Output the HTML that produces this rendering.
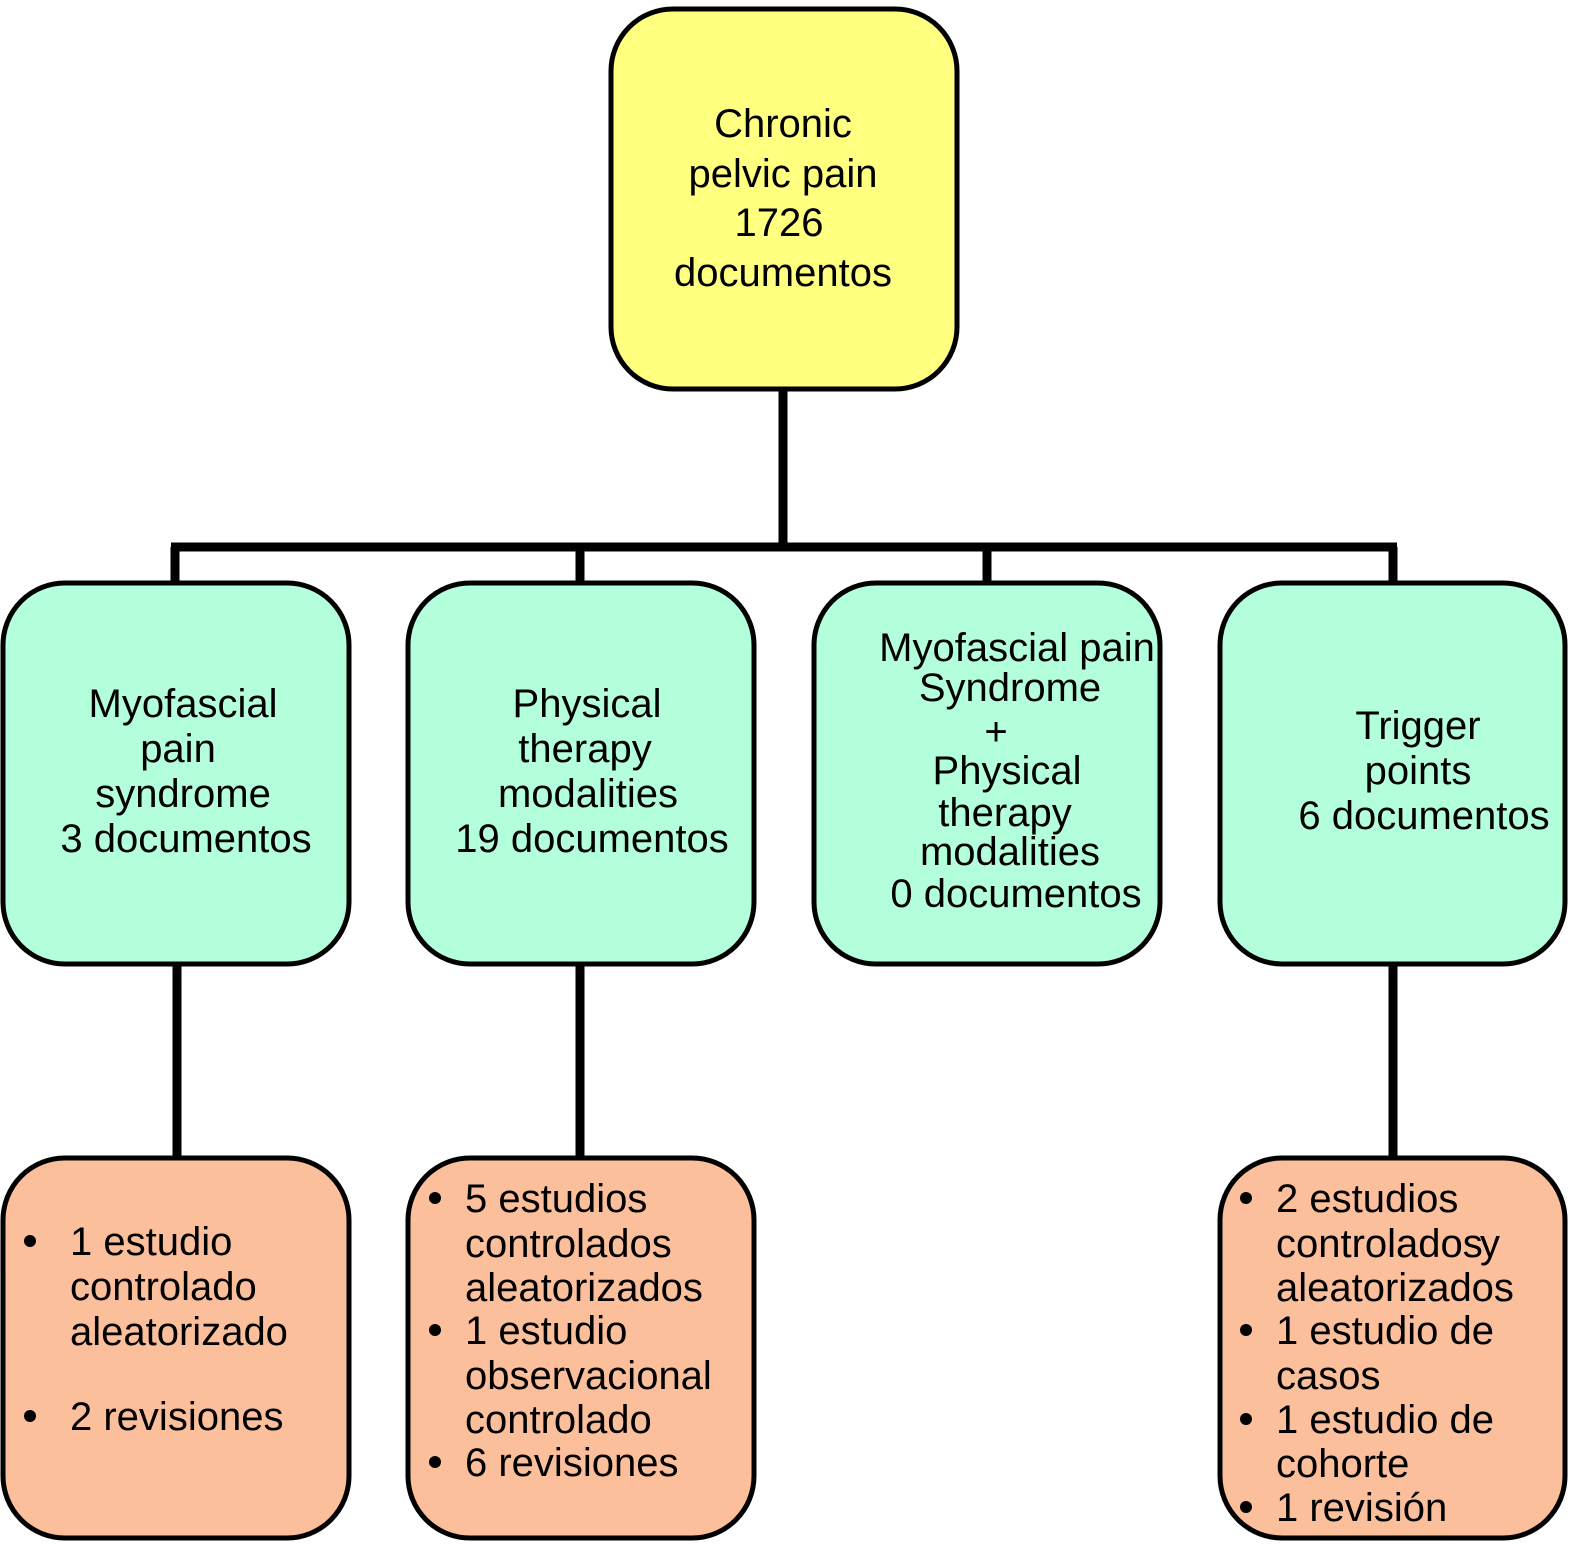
<!DOCTYPE html>
<html><head><meta charset="utf-8"><style>
html,body{margin:0;padding:0;background:#fff;}
svg{display:block;}
text{font-family:"Liberation Sans",Arial,sans-serif;font-size:40px;fill:#000;}
.c{text-anchor:middle;}
</style></head><body>
<svg width="1583" height="1556" viewBox="0 0 1583 1556" xmlns="http://www.w3.org/2000/svg">
<g stroke="#000" stroke-width="9" fill="none">
<line x1="783" y1="388" x2="783" y2="549"/>
<line x1="171" y1="547" x2="1397" y2="547"/>
<line x1="175" y1="547" x2="175" y2="584"/>
<line x1="580" y1="547" x2="580" y2="584"/>
<line x1="987" y1="547" x2="987" y2="584"/>
<line x1="1393" y1="547" x2="1393" y2="584"/>
<line x1="177" y1="963" x2="177" y2="1159"/>
<line x1="580" y1="963" x2="580" y2="1159"/>
<line x1="1393" y1="963" x2="1393" y2="1159"/>
</g>
<g stroke="#000" stroke-width="5">
<rect x="611" y="9" width="346" height="380" rx="62" fill="#ffff80"/>
<rect x="3" y="583" width="346" height="381" rx="62" fill="#b3ffdb"/>
<rect x="408" y="583" width="346" height="381" rx="62" fill="#b3ffdb"/>
<rect x="814" y="583" width="346" height="381" rx="62" fill="#b3ffdb"/>
<rect x="1220" y="583" width="345" height="381" rx="62" fill="#b3ffdb"/>
<rect x="3" y="1158" width="346" height="380" rx="62" fill="#fbbf9c"/>
<rect x="408" y="1158" width="346" height="380" rx="62" fill="#fbbf9c"/>
<rect x="1220" y="1158" width="345" height="380" rx="62" fill="#fbbf9c"/>
</g>
<text class="c" x="783" y="137">Chronic</text>
<text class="c" x="783" y="187">pelvic pain</text>
<text class="c" x="779" y="236">1726</text>
<text class="c" x="783" y="286">documentos</text>

<text class="c" x="183" y="717">Myofascial</text>
<text class="c" x="178" y="762">pain</text>
<text class="c" x="183" y="807">syndrome</text>
<text class="c" x="186" y="852">3 documentos</text>

<text class="c" x="587" y="717">Physical</text>
<text class="c" x="585" y="762">therapy</text>
<text class="c" x="588" y="807">modalities</text>
<text class="c" x="592" y="852">19 documentos</text>

<text class="c" x="1017" y="661">Myofascial pain</text>
<text class="c" x="1010" y="701">Syndrome</text>
<text class="c" x="996" y="745">+</text>
<text class="c" x="1007" y="784">Physical</text>
<text class="c" x="1005" y="826">therapy</text>
<text class="c" x="1010" y="865">modalities</text>
<text class="c" x="1016" y="907">0 documentos</text>

<text class="c" x="1418" y="739">Trigger</text>
<text class="c" x="1418" y="784">points</text>
<text class="c" x="1424" y="829">6 documentos</text>

<g>
<circle cx="30" cy="1241" r="6"/><circle cx="30" cy="1416" r="6"/>
<text x="70" y="1255">1 estudio</text>
<text x="70" y="1300">controlado</text>
<text x="70" y="1345">aleatorizado</text>
<text x="70" y="1430">2 revisiones</text>

<circle cx="435" cy="1198" r="6"/><circle cx="435" cy="1330" r="6"/><circle cx="435" cy="1462" r="6"/>
<text x="465" y="1212">5 estudios</text>
<text x="465" y="1257">controlados</text>
<text x="465" y="1301">aleatorizados</text>
<text x="465" y="1344">1 estudio</text>
<text x="465" y="1389">observacional</text>
<text x="465" y="1433">controlado</text>
<text x="465" y="1476">6 revisiones</text>

<circle cx="1246" cy="1198" r="6"/><circle cx="1246" cy="1330" r="6"/><circle cx="1246" cy="1419" r="6"/><circle cx="1246" cy="1507" r="6"/>
<text x="1276" y="1212">2 estudios</text>
<text x="1276" y="1257">controlados</text>
<text x="1480" y="1257">y</text>
<text x="1276" y="1301">aleatorizados</text>
<text x="1276" y="1344">1 estudio de</text>
<text x="1276" y="1389">casos</text>
<text x="1276" y="1433">1 estudio de</text>
<text x="1276" y="1477">cohorte</text>
<text x="1276" y="1521">1 revisión</text>
</g>
</svg>
</body></html>
